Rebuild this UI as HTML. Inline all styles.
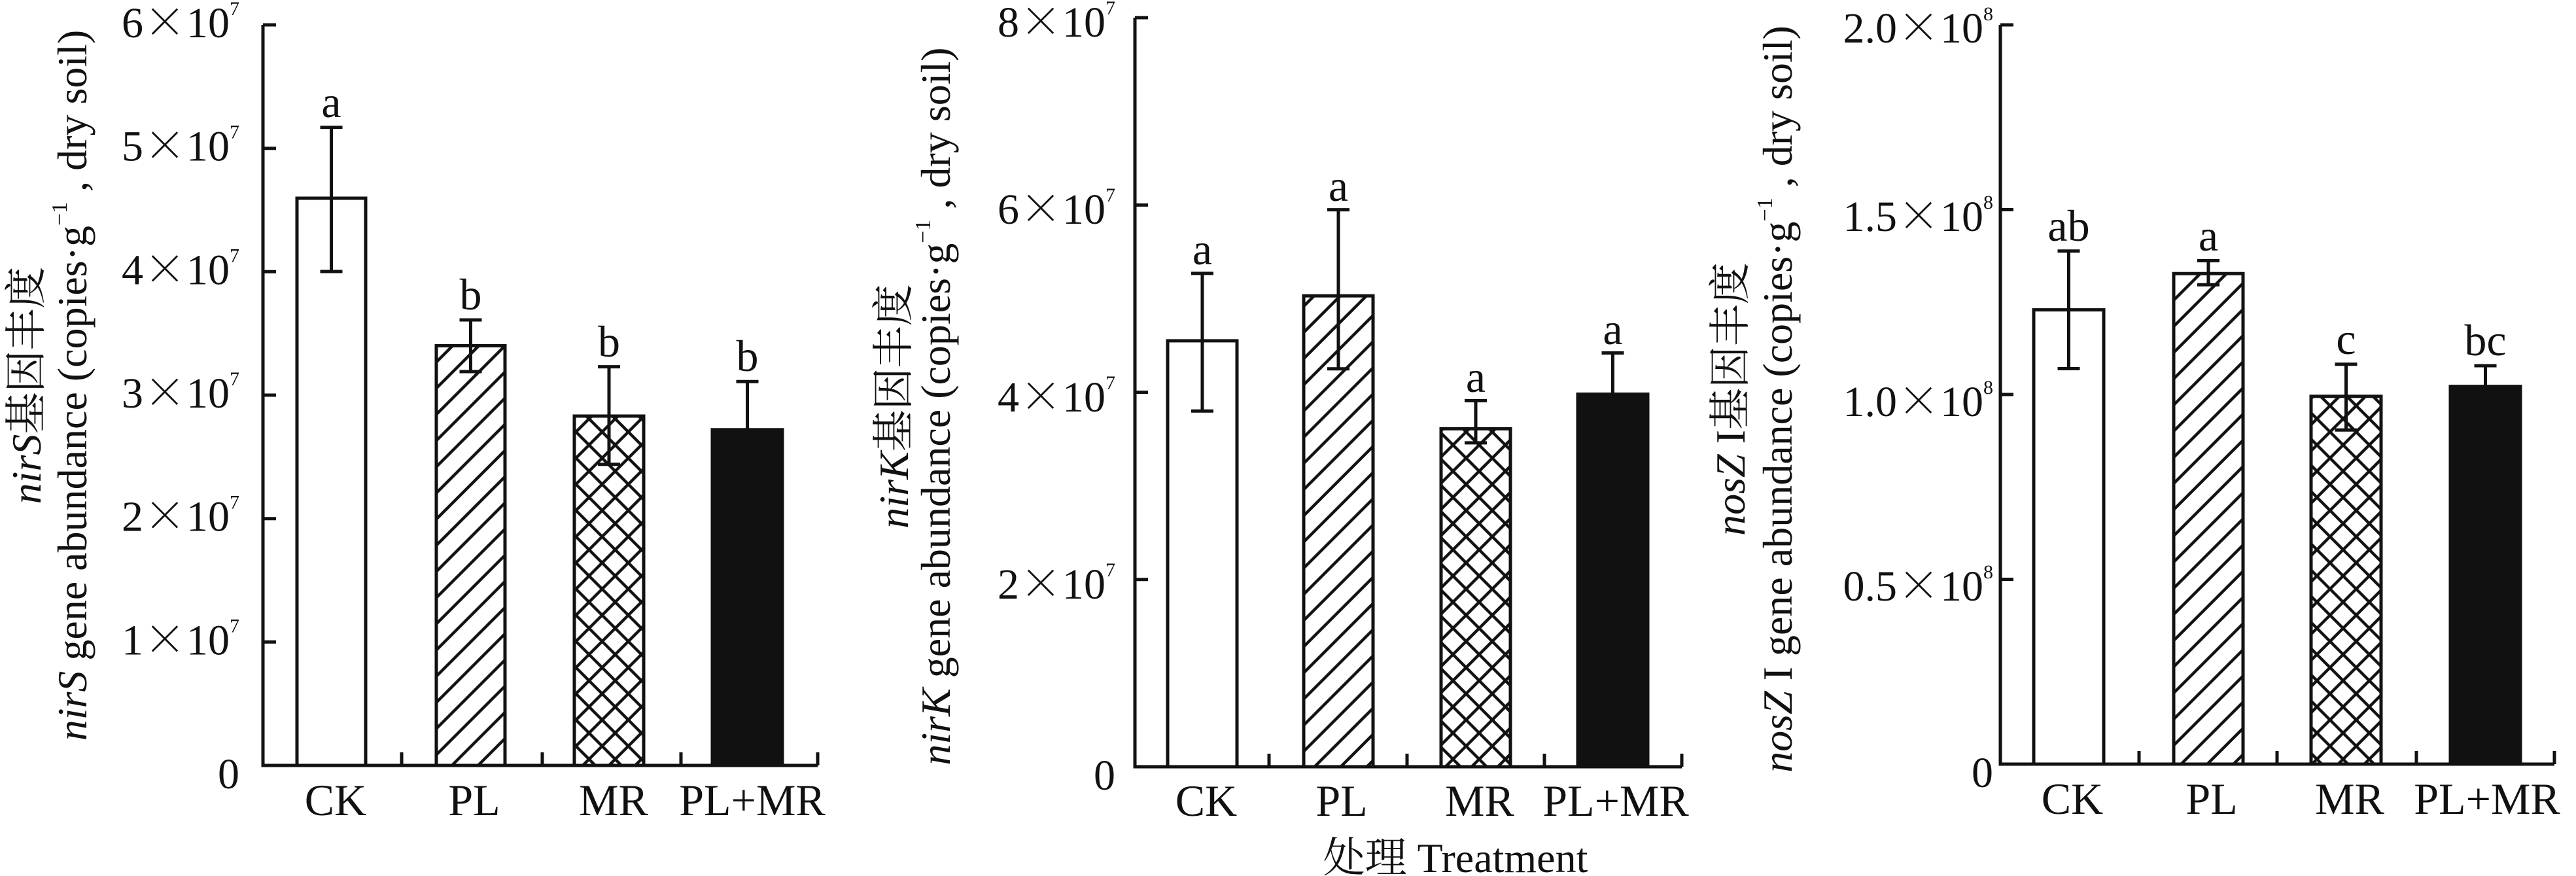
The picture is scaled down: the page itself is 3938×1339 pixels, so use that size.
<!DOCTYPE html>
<html><head><meta charset="utf-8"><style>
html,body{margin:0;padding:0;background:#fff}
svg{display:block}
text{font-family:"Liberation Serif","Noto Serif CJK SC",serif;fill:#111}
.x{font-family:"Noto Serif CJK SC",serif}
</style></head><body>
<svg width="3938" height="1339" viewBox="0 0 3938 1339" xmlns="http://www.w3.org/2000/svg">
<defs>
<pattern id="hs" patternUnits="userSpaceOnUse" width="28.3" height="28.3" patternTransform="rotate(45)">
<line x1="14" y1="-5" x2="14" y2="35" stroke="#111" stroke-width="4.5"/>
</pattern>
<pattern id="hx" patternUnits="userSpaceOnUse" width="28.3" height="28.3" patternTransform="rotate(45)">
<line x1="14" y1="-5" x2="14" y2="35" stroke="#111" stroke-width="4.5"/>
<line x1="-5" y1="14" x2="35" y2="14" stroke="#111" stroke-width="4.5"/>
</pattern>
</defs>
<g stroke="#111" stroke-width="5" fill="none">
<polyline points="402,38 402,1170 1250,1170"/>
<line x1="402" y1="38" x2="422" y2="38"/><line x1="402" y1="226.7" x2="422" y2="226.7"/><line x1="402" y1="415.3" x2="422" y2="415.3"/><line x1="402" y1="604" x2="422" y2="604"/><line x1="402" y1="792.7" x2="422" y2="792.7"/><line x1="402" y1="981.3" x2="422" y2="981.3"/>
<line x1="614" y1="1170" x2="614" y2="1150"/><line x1="829" y1="1170" x2="829" y2="1150"/><line x1="1041" y1="1170" x2="1041" y2="1150"/><line x1="1250" y1="1170" x2="1250" y2="1150"/>
<rect x="454" y="303" width="105" height="867" fill="#fff"/>
<rect x="667" y="528.5" width="105" height="641.5" fill="url(#hs)"/>
<rect x="878" y="636" width="106" height="534" fill="url(#hx)"/>
<rect x="1089" y="656.8" width="107" height="513.2" fill="#111"/>
<path d="M506.5 194.6V415M489.5 194.6h34M489.5 415h34"/>
<path d="M719.5 489V568M702.5 489h34M702.5 568h34"/>
<path d="M931 560.6V709.7M914 560.6h34M914 709.7h34"/>
<path d="M1142.5 583.2V660M1125.5 583.2h34"/>
<polyline points="1735,27 1735,1172 2571,1172"/>
<line x1="1735" y1="27" x2="1755" y2="27"/><line x1="1735" y1="313.4" x2="1755" y2="313.4"/><line x1="1735" y1="599.6" x2="1755" y2="599.6"/><line x1="1735" y1="885.8" x2="1755" y2="885.8"/>
<line x1="1940" y1="1172" x2="1940" y2="1152"/><line x1="2151" y1="1172" x2="2151" y2="1152"/><line x1="2361" y1="1172" x2="2361" y2="1152"/><line x1="2571" y1="1172" x2="2571" y2="1152"/>
<rect x="1785" y="520.9" width="106" height="651.1" fill="#fff"/>
<rect x="1993" y="452.2" width="106" height="719.8" fill="url(#hs)"/>
<rect x="2203" y="655.4" width="106" height="516.6" fill="url(#hx)"/>
<rect x="2412" y="602.5" width="107" height="569.5" fill="#111"/>
<path d="M1838 417.9V628.2M1821 417.9h34M1821 628.2h34"/>
<path d="M2046 320.6V563.8M2029 320.6h34M2029 563.8h34"/>
<path d="M2256 612.5V676.9M2239 612.5h34M2239 676.9h34"/>
<path d="M2465.5 539.5V606M2448.5 539.5h34"/>
<polyline points="3058,38 3058,1168 3905,1168"/>
<line x1="3058" y1="38" x2="3078" y2="38"/><line x1="3058" y1="320.5" x2="3078" y2="320.5"/><line x1="3058" y1="603" x2="3078" y2="603"/><line x1="3058" y1="885.5" x2="3078" y2="885.5"/>
<line x1="3270" y1="1168" x2="3270" y2="1148"/><line x1="3481" y1="1168" x2="3481" y2="1148"/><line x1="3694" y1="1168" x2="3694" y2="1148"/><line x1="3905" y1="1168" x2="3905" y2="1148"/>
<rect x="3109" y="473.6" width="107" height="694.4" fill="#fff"/>
<rect x="3323" y="418.2" width="106" height="749.8" fill="url(#hs)"/>
<rect x="3533" y="605.8" width="107" height="562.2" fill="url(#hx)"/>
<rect x="3746" y="590.6" width="107" height="577.4" fill="#111"/>
<path d="M3162.5 383.8V563.5M3145.5 383.8h34M3145.5 563.5h34"/>
<path d="M3376 398.5V435.2M3359 398.5h34M3359 435.2h34"/>
<path d="M3586.5 556.7V657.2M3569.5 556.7h34M3569.5 657.2h34"/>
<path d="M3799.5 559V594M3782.5 559h34"/>
</g>

<g font-size="66" text-anchor="end">
<text x="366" y="57">6<tspan class="x">×</tspan>10<tspan font-size="30" dy="-34">7</tspan></text>
<text x="366" y="245.7">5<tspan class="x">×</tspan>10<tspan font-size="30" dy="-34">7</tspan></text>
<text x="366" y="434.3">4<tspan class="x">×</tspan>10<tspan font-size="30" dy="-34">7</tspan></text>
<text x="366" y="623">3<tspan class="x">×</tspan>10<tspan font-size="30" dy="-34">7</tspan></text>
<text x="366" y="811.7">2<tspan class="x">×</tspan>10<tspan font-size="30" dy="-34">7</tspan></text>
<text x="366" y="1000.3">1<tspan class="x">×</tspan>10<tspan font-size="30" dy="-34">7</tspan></text>
<text x="366" y="1205">0</text>
</g>
<g font-size="68" text-anchor="middle">
<text x="513" y="1246">CK</text><text x="725" y="1246">PL</text><text x="938" y="1246">MR</text><text x="1150" y="1246">PL+MR</text>
<text x="506.5" y="179">a</text><text x="719.5" y="473">b</text><text x="931" y="545">b</text><text x="1142.5" y="567">b</text>
</g>
<g font-size="64" text-anchor="middle">
<text transform="translate(62,589) rotate(-90)"><tspan font-style="italic">nirS</tspan>基因丰度</text>
<text transform="translate(132,589) rotate(-90)"><tspan font-style="italic">nirS</tspan> gene abundance (copies·g<tspan font-size="34" dy="-30">−1</tspan><tspan dy="30"> , dry soil)</tspan></text>
</g>

<g font-size="66" text-anchor="end">
<text x="1705" y="56">8<tspan class="x">×</tspan>10<tspan font-size="30" dy="-34">7</tspan></text>
<text x="1705" y="342">6<tspan class="x">×</tspan>10<tspan font-size="30" dy="-34">7</tspan></text>
<text x="1705" y="629">4<tspan class="x">×</tspan>10<tspan font-size="30" dy="-34">7</tspan></text>
<text x="1705" y="915">2<tspan class="x">×</tspan>10<tspan font-size="30" dy="-34">7</tspan></text>
<text x="1705" y="1207">0</text>
</g>
<g font-size="68" text-anchor="middle">
<text x="1844" y="1247">CK</text><text x="2051" y="1247">PL</text><text x="2262" y="1247">MR</text><text x="2470" y="1247">PL+MR</text>
<text x="1838" y="404">a</text><text x="2046" y="307">a</text><text x="2256" y="599">a</text><text x="2465.5" y="526">a</text>
</g>
<text x="2225" y="1333" font-size="64" text-anchor="middle">处理 Treatment</text>
<g font-size="64" text-anchor="middle">
<text transform="translate(1388,621) rotate(-90)"><tspan font-style="italic">nirK</tspan>基因丰度</text>
<text transform="translate(1452,621) rotate(-90)"><tspan font-style="italic">nirK</tspan> gene abundance (copies·g<tspan font-size="34" dy="-30">−1</tspan><tspan dy="30"> , dry soil)</tspan></text>
</g>

<g font-size="66" text-anchor="end">
<text x="3047" y="65">2.0<tspan class="x">×</tspan>10<tspan font-size="30" dy="-34">8</tspan></text>
<text x="3047" y="353">1.5<tspan class="x">×</tspan>10<tspan font-size="30" dy="-34">8</tspan></text>
<text x="3047" y="636">1.0<tspan class="x">×</tspan>10<tspan font-size="30" dy="-34">8</tspan></text>
<text x="3047" y="918">0.5<tspan class="x">×</tspan>10<tspan font-size="30" dy="-34">8</tspan></text>
<text x="3047" y="1203">0</text>
</g>
<g font-size="68" text-anchor="middle">
<text x="3168" y="1244">CK</text><text x="3381" y="1244">PL</text><text x="3592" y="1244">MR</text><text x="3802" y="1244">PL+MR</text>
<text x="3162.5" y="368">ab</text><text x="3376" y="383">a</text><text x="3586.5" y="541">c</text><text x="3799.5" y="543">bc</text>
</g>
<g font-size="64" text-anchor="middle">
<text transform="translate(2667,610) rotate(-90)"><tspan font-style="italic">nosZ</tspan> I基因丰度</text>
<text transform="translate(2739,610) rotate(-90)"><tspan font-style="italic">nosZ</tspan> I gene abundance (copies·g<tspan font-size="34" dy="-30">−1</tspan><tspan dy="30"> , dry soil)</tspan></text>
</g>
</svg>
</body></html>
